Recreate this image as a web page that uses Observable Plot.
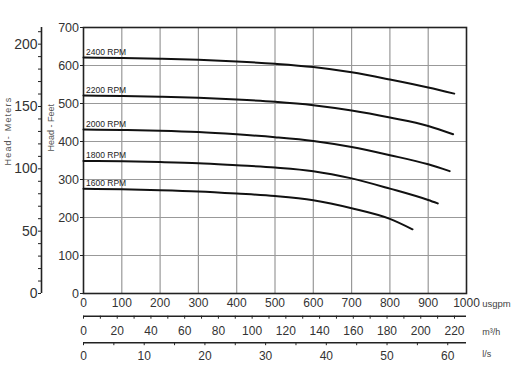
<!DOCTYPE html>
<html>
<head>
<meta charset="utf-8">
<script src="https://cdn.jsdelivr.net/npm/d3@7"></script>
<script src="https://cdn.jsdelivr.net/npm/@observablehq/plot@0.6"></script>
<style>
  html, body { margin: 0; padding: 0; background: #fff; }
  #chart { width: 513px; height: 380px; }
</style>
</head>
<body>
<div id="chart"></div>
<script>
// ---- Data ----
const rpms = [2400, 2200, 2000, 1800, 1600];

const flow2400 = [0, 100, 200, 300, 400, 500, 600, 700, 800, 900, 968];
const head2400 = [621, 620, 618, 615, 610.5, 604.5, 596, 582, 563, 542, 526];

const flow2200 = [0, 100, 200, 300, 400, 500, 600, 700, 800, 900, 965];
const head2200 = [521, 520, 518, 515, 510.5, 504.5, 495.5, 481.5, 463, 441, 419];

const flow2000 = [0, 100, 200, 300, 400, 500, 600, 700, 800, 900, 956];
const head2000 = [431.5, 430.5, 428.5, 425, 419, 411.5, 401.5, 385.5, 364, 340, 322];

const flow1800 = [0, 100, 200, 300, 400, 500, 600, 700, 800, 900, 925];
const head1800 = [349, 348, 346, 343, 337.5, 331.5, 322, 303, 276, 246, 237];

const flow1600 = [0, 100, 200, 300, 400, 500, 600, 700, 800, 859];
const head1600 = [275.5, 274.5, 272, 268.5, 263, 256.5, 245.5, 224.5, 196.5, 169];

// Axis tick values
const usgpmTicks = [0, 100, 200, 300, 400, 500, 600, 700, 800, 900, 1000];
const feetTicks = [0, 100, 200, 300, 400, 500, 600, 700];
const meterTicks = d3.range(0, 220, 10);   // 0..210, labelled every 50
const m3hTicks = d3.range(0, 230, 10);     // 0..220, labelled every 20
const lsTicks = d3.range(0, 65, 5);        // 0..60, labelled every 10
const gridFlow = [100, 200, 300, 400, 500, 600, 700, 800, 900];
const gridHead = [100, 200, 300, 400, 500, 600];

const units = ["usgpm", "m³/h", "l/s"];
const titles = ["Head - Feet", "Head- Meters"];

// Unit conversions (to the chart's usgpm / feet scales)
const FT_PER_M = 3.28084;
const GPM_PER_M3H = 4.402868;
const GPM_PER_LS = 15.850323;

// ---- Build table ----
const seriesFlows = [flow2400, flow2200, flow2000, flow1800, flow1600];
const seriesHeads = [head2400, head2200, head2000, head1800, head1600];
const rows = [];
rpms.forEach((rpm, s) => {
  seriesFlows[s].forEach((f, i) => rows.push({rpm, flow: f, head: seriesHeads[s][i]}));
});
const starts = rows.filter(d => d.flow === 0);
const xMax = d3.max(usgpmTicks);
const yMax = d3.max(feetTicks);

const FONT = "'Liberation Sans', Arial, Helvetica, sans-serif";

const chart = Plot.plot({
  width: 513,
  height: 380,
  marginLeft: 83,
  marginRight: 47,
  marginTop: 27,
  marginBottom: 87,
  x: {domain: [0, xMax], axis: null},
  y: {domain: [0, yMax], axis: null},
  style: {fontFamily: FONT, color: "#333", background: "#fff", overflow: "visible"},
  marks: [
    // grid
    Plot.ruleX(gridFlow, {stroke: "#999", strokeWidth: 1.2}),
    Plot.ruleY(gridHead, {stroke: "#999", strokeWidth: 1.2}),
    Plot.frame({stroke: "#222", strokeWidth: 1.6}),

    // feet axis
    Plot.axisY(feetTicks, {anchor: "left", tickSize: 3, tickPadding: 1.5, fontSize: 12.5, label: null, stroke: "#222", tickFormat: d => String(d)}),

    // meters axis (offset to the left)
    Plot.ruleX([0], {y1: 0, y2: yMax, dx: -42, stroke: "#222", strokeWidth: 1.6}),
    Plot.axisY(meterTicks.map(m => m * FT_PER_M), {
      anchor: "left", dx: -42, tickSize: 3, tickPadding: 1, fontSize: 14, label: null, stroke: "#222",
      tickFormat: d => { const m = Math.round(d / FT_PER_M); return m % 50 === 0 ? String(m) : ""; }
    }),

    // usgpm axis
    Plot.axisX(usgpmTicks, {anchor: "bottom", tickSize: 0, tickPadding: 5, fontSize: 12, label: null, tickFormat: d => String(d)}),

    // m3/h axis
    Plot.ruleY([0], {x1: 0, x2: xMax, dy: 22.7, stroke: "#222", strokeWidth: 1.6}),
    Plot.axisX(m3hTicks.map(v => v * GPM_PER_M3H), {
      anchor: "bottom", dy: 22.7, tickSize: 3, tickPadding: 7.5, fontSize: 12, label: null, stroke: "#222",
      tickFormat: d => { const v = Math.round(d / GPM_PER_M3H); return v % 20 === 0 ? String(v) : ""; }
    }),

    // l/s axis
    Plot.ruleY([0], {x1: 0, x2: xMax, dy: 49.2, stroke: "#222", strokeWidth: 1.6}),
    Plot.axisX(lsTicks.map(v => v * GPM_PER_LS), {
      anchor: "bottom", dy: 49.2, tickSize: 3, tickPadding: 6, fontSize: 12, label: null, stroke: "#222",
      tickFormat: d => { const v = Math.round(d / GPM_PER_LS); return v % 10 === 0 ? String(v) : ""; }
    }),

    // unit labels
    Plot.text([units[0]], {frameAnchor: "bottom-right", dx: 15.7, dy: 10.7, textAnchor: "start", lineAnchor: "middle", fontSize: 9.5, fill: "#444"}),
    Plot.text([units[1]], {frameAnchor: "bottom-right", dx: 15.7, dy: 38.4, textAnchor: "start", lineAnchor: "middle", fontSize: 9, fill: "#444"}),
    Plot.text([units[2]], {frameAnchor: "bottom-right", dx: 15.7, dy: 60.7, textAnchor: "start", lineAnchor: "middle", fontSize: 9, fill: "#444"}),

    // axis titles (rotated), placed left of the frame
    Plot.text([titles[0]], {frameAnchor: "left", rotate: -90, dx: -32, dy: -9, lineAnchor: "middle", fontSize: 9, fill: "#555"}),
    Plot.text([titles[1]], {frameAnchor: "left", rotate: -90, dx: -75, dy: 5, lineAnchor: "middle", fontSize: 9, fill: "#555"}),

    // curves
    Plot.line(rows, {x: "flow", y: "head", z: "rpm", curve: "monotone-x", stroke: "#111", strokeWidth: 2}),
    Plot.text(starts, {x: "flow", y: "head", text: d => `${d.rpm} RPM`, dx: 2.5, dy: -5.5, textAnchor: "start", lineAnchor: "middle", fontSize: 8.5, fill: "#222"})
  ]
});

document.getElementById("chart").appendChild(chart);
d3.select(chart).selectAll("text")
  .filter(function() { return this.textContent === "Head- Meters"; })
  .style("letter-spacing", "1.2px");
</script>
</body>
</html>
